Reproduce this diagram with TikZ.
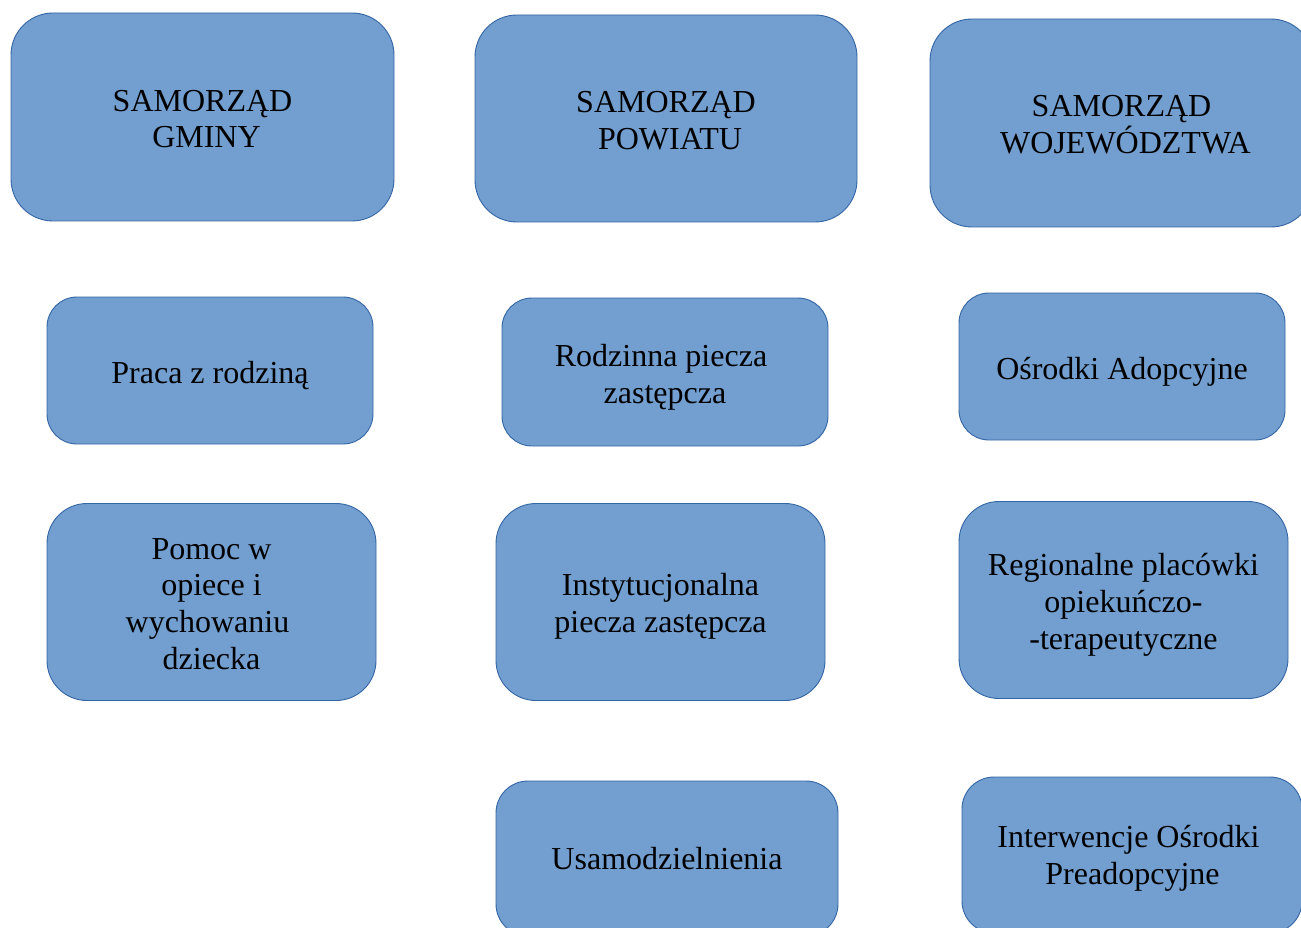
\documentclass[tikz,border=0pt]{standalone}
\usepackage{fontspec}
\setmainfont{Liberation Serif}
\definecolor{boxfill}{HTML}{729FCF}
\definecolor{boxline}{HTML}{3465A4}
\tikzset{
  box/.style={draw=boxline, fill=boxfill, line width=0.9pt, inner sep=0pt},
  txt/.style={align=center, inner sep=0pt, font=\fontsize{32}{36.8}\selectfont, text=black},
}
\begin{document}
\begin{tikzpicture}[x=1pt,y=-1pt]
\useasboundingbox (0,0) rectangle (1301,928);
\clip (0,0) rectangle (1301,928);
% row 1
\node[box, minimum width=383pt, minimum height=208pt, rounded corners=42pt,
  label={[txt,yshift=-2pt]center:SAMORZĄD\\\ GMINY}] (gminy) at (202.5,117) {};
\node[box, minimum width=382pt, minimum height=207pt, rounded corners=42pt,
  label={[txt,yshift=-2pt]center:SAMORZĄD\\\ POWIATU}] (powiatu) at (666,118.5) {};
\node[box, minimum width=383pt, minimum height=208pt, rounded corners=42pt,
  label={[txt,yshift=-2pt]center:SAMORZĄD\\\ WOJEWÓDZTWA}] (woj) at (1121.5,123) {};
% row 2
\node[box, minimum width=326pt, minimum height=147pt, rounded corners=30pt,
  label={[txt,yshift=-5pt]center:Praca z rodziną}] (praca) at (210,370.5) {};
\node[box, minimum width=326pt, minimum height=148pt, rounded corners=30pt,
  label={[txt,yshift=-5pt,xshift=-4pt]center:Rodzinna piecza\\\ zastępcza}] (rodzinna) at (665,372) {};
\node[box, minimum width=326pt, minimum height=147pt, rounded corners=30pt,
  label={[txt,yshift=-5pt]center:Ośrodki Adopcyjne}] (osrodki) at (1122,366.5) {};
% row 3
\node[box, minimum width=329pt, minimum height=197pt, rounded corners=40pt,
  label={[txt,yshift=-2pt]center:Pomoc w\\opiece i\\wychowaniu\hbox{\ }\\dziecka}] (pomoc) at (211.5,602) {};
\node[box, minimum width=329pt, minimum height=197pt, rounded corners=40pt,
  label={[txt,yshift=-4pt]center:Instytucjonalna\\piecza zastępcza}] (instyt) at (660.5,602) {};
\node[box, minimum width=329pt, minimum height=197pt, rounded corners=40pt,
  label={[txt,yshift=-5pt]center:Regionalne placówki\\opiekuńczo-\\-terapeutyczne}] (region) at (1123.5,600) {};
% row 4
\node[box, minimum width=342pt, minimum height=155pt, rounded corners=32pt,
  label={[txt]center:Usamodzielnienia}] (usam) at (667,858.5) {};
\node[box, minimum width=340pt, minimum height=156pt, rounded corners=32pt,
  label={[txt,yshift=-3pt,xshift=-3.5pt]center:Interwencje Ośrodki\\\ Preadopcyjne}] (interw) at (1132,855) {};
\end{tikzpicture}
\end{document}
